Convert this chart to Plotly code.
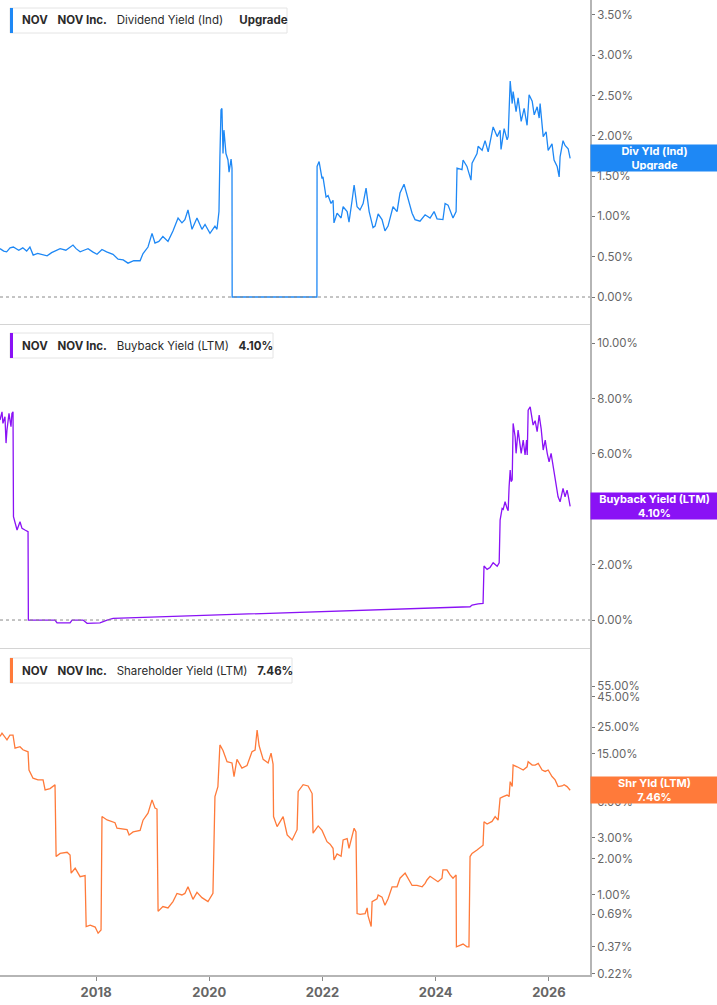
import numpy as np
import plotly.graph_objects as go

# ---- data ----
div_dates = [
    "2016-04-21", "2016-05-15", "2016-06-03", "2016-06-25", "2016-07-16", "2016-08-20",
    "2016-09-15", "2016-10-10", "2016-10-31", "2016-11-21", "2016-12-20", "2017-01-20",
    "2017-02-19", "2017-03-20", "2017-05-14", "2017-06-20", "2017-08-05", "2017-08-25",
    "2017-09-20", "2017-10-15", "2017-11-10", "2017-12-10", "2018-01-07", "2018-02-08",
    "2018-03-10", "2018-04-20", "2018-05-23", "2018-06-25", "2018-07-26", "2018-09-01",
    "2018-10-12", "2018-10-31", "2018-12-02", "2018-12-28", "2019-01-16", "2019-02-10",
    "2019-03-08", "2019-04-10", "2019-05-12", "2019-06-14", "2019-07-09", "2019-07-28",
    "2019-08-17", "2019-09-12", "2019-10-14", "2019-11-15", "2019-12-05", "2020-01-06",
    "2020-02-07", "2020-02-20", "2020-03-04", "2020-03-10", "2020-03-17", "2020-03-23",
    "2020-03-30", "2020-04-05", "2020-04-18", "2020-05-01", "2020-05-08", "2020-05-21",
    "2020-05-27", "2020-05-28", "2021-11-26", "2021-11-27", "2021-12-10", "2021-12-29",
    "2022-01-04", "2022-01-24", "2022-02-06", "2022-02-25", "2022-03-10", "2022-03-16",
    "2022-04-05", "2022-05-01", "2022-05-14", "2022-06-09", "2022-06-21", "2022-07-11",
    "2022-07-24", "2022-08-12", "2022-08-31", "2022-09-20", "2022-10-09", "2022-10-29",
    "2022-11-23", "2022-12-06", "2022-12-26", "2023-01-20", "2023-02-08", "2023-02-28",
    "2023-04-01", "2023-04-27", "2023-05-16", "2023-06-11", "2023-06-30", "2023-08-02",
    "2023-08-21", "2023-09-22", "2023-10-25", "2023-11-26", "2023-12-22", "2024-01-10",
    "2024-02-17", "2024-03-02", "2024-03-21", "2024-04-22", "2024-05-12", "2024-05-18",
    "2024-06-19", "2024-06-26", "2024-07-21", "2024-08-16", "2024-08-23", "2024-09-24",
    "2024-10-01", "2024-10-27", "2024-11-15", "2024-12-05", "2025-01-06", "2025-02-01",
    "2025-02-20", "2025-02-26", "2025-03-18", "2025-04-06", "2025-04-13", "2025-04-26",
    "2025-05-09", "2025-05-15", "2025-06-03", "2025-06-16", "2025-07-06", "2025-07-25",
    "2025-08-13", "2025-08-26", "2025-09-15", "2025-09-28", "2025-10-17", "2025-10-30",
    "2025-11-05", "2025-11-25", "2025-12-14", "2025-12-27", "2026-01-21", "2026-02-03",
    "2026-02-23", "2026-03-08", "2026-03-14", "2026-04-02", "2026-04-15", "2026-04-28",
    "2026-05-05", "2026-05-18",
]
div_yield = [
    0.60, 0.57, 0.56, 0.61, 0.62, 0.58,
    0.61, 0.57, 0.62, 0.52, 0.54, 0.52,
    0.51, 0.55, 0.60, 0.58, 0.645, 0.60,
    0.56, 0.58, 0.60, 0.56, 0.53, 0.59,
    0.56, 0.53, 0.47, 0.46, 0.42, 0.45,
    0.45, 0.54, 0.62, 0.79, 0.67, 0.69,
    0.75, 0.69, 0.82, 0.98, 0.92, 0.96,
    1.08, 0.84, 0.98, 0.84, 0.90, 0.79,
    0.88, 0.84, 1.06, 1.74, 2.32, 2.34,
    1.78, 2.07, 1.78, 1.70, 1.55, 1.71,
    1.60, 0.00, 0.00, 1.62, 1.68, 1.47,
    1.49, 1.24, 1.26, 1.16, 1.20, 0.92,
    1.04, 0.98, 1.12, 1.06, 0.93, 1.20,
    1.39, 1.12, 1.08, 1.16, 1.35, 1.06,
    0.86, 0.88, 1.03, 0.96, 0.82, 0.88,
    1.12, 1.06, 1.29, 1.40, 1.26, 1.04,
    0.96, 0.94, 1.02, 0.98, 1.06, 0.97,
    0.96, 1.16, 1.14, 0.98, 1.06, 1.60,
    1.58, 1.70, 1.62, 1.45, 1.66, 1.78,
    1.87, 1.82, 1.94, 1.80, 2.11, 1.99,
    2.07, 1.83, 2.09, 1.95, 1.99, 2.68,
    2.40, 2.55, 2.30, 2.47, 2.18, 2.34,
    2.13, 2.51, 2.43, 2.26, 2.36, 2.22,
    2.40, 1.99, 2.05, 1.82, 1.90, 1.70,
    1.62, 1.49, 1.74, 1.94, 1.88, 1.86,
    1.84, 1.72,
]

bb_dates = [
    "2016-04-21", "2016-05-04", "2016-05-10", "2016-05-23", "2016-05-30", "2016-06-05",
    "2016-06-18", "2016-07-01", "2016-07-07", "2016-07-14", "2016-07-17", "2016-07-27",
    "2016-08-09", "2016-08-28", "2016-09-10", "2016-09-29", "2016-10-19", "2016-10-21",
    "2017-04-11", "2017-04-24", "2017-07-17", "2017-07-30", "2017-10-09", "2017-11-04",
    "2018-01-26", "2018-03-13", "2018-04-21", "2024-08-10", "2024-08-23", "2024-10-01",
    "2024-11-02", "2024-11-08", "2024-11-28", "2024-12-17", "2025-01-06", "2025-02-01",
    "2025-02-14", "2025-02-20", "2025-03-05", "2025-03-12", "2025-03-24", "2025-04-06",
    "2025-04-13", "2025-04-19", "2025-04-26", "2025-05-02", "2025-05-09", "2025-05-15",
    "2025-05-28", "2025-06-03", "2025-06-16", "2025-07-06", "2025-07-19", "2025-07-31",
    "2025-08-10", "2025-08-14", "2025-08-20", "2025-09-02", "2025-09-21", "2025-10-04",
    "2025-10-17", "2025-10-30", "2025-11-12", "2025-11-25", "2025-12-08", "2025-12-21",
    "2026-01-02", "2026-01-15", "2026-01-28", "2026-02-10", "2026-02-23", "2026-03-01",
    "2026-03-14", "2026-04-02", "2026-04-15", "2026-04-28", "2026-05-05", "2026-05-18",
]
bb_yield = [
    7.22, 7.52, 7.10, 7.34, 6.39, 6.86,
    7.46, 6.98, 7.46, 7.52, 3.73, 3.49,
    3.25, 3.55, 3.31, 3.25, 3.19, 0.00,
    0.00, -0.10, -0.10, 0.00, 0.00, -0.12,
    -0.10, 0.00, 0.06, 0.48, 0.54, 0.58,
    0.60, 1.95, 1.83, 1.90, 2.07, 1.94,
    2.07, 3.61, 4.03, 4.00, 4.27, 4.03,
    3.95, 4.81, 5.42, 5.00, 5.06, 7.10,
    6.62, 6.02, 6.86, 6.02, 6.50, 5.96,
    6.50, 5.96, 7.58, 7.70, 7.04, 7.20,
    6.80, 7.40, 6.90, 6.14, 6.50, 6.02,
    5.71, 6.02, 5.54, 5.06, 4.69, 4.45,
    4.27, 4.75, 4.45, 4.69, 4.50, 4.10,
]

shr_dates = [
    "2016-04-21", "2016-05-04", "2016-06-05", "2016-06-24", "2016-07-14", "2016-07-27",
    "2016-08-28", "2016-09-16", "2016-10-19", "2016-10-25", "2016-11-20", "2016-12-22",
    "2017-01-24", "2017-02-06", "2017-03-10", "2017-04-11", "2017-04-18", "2017-05-14",
    "2017-06-28", "2017-07-17", "2017-07-24", "2017-08-19", "2017-09-20", "2017-10-22",
    "2017-10-29", "2017-11-24", "2017-12-26", "2018-01-14", "2018-02-02", "2018-02-08",
    "2018-03-13", "2018-05-03", "2018-05-16", "2018-07-20", "2018-08-02", "2018-08-28",
    "2018-10-12", "2018-10-31", "2018-12-02", "2018-12-28", "2019-01-16", "2019-01-29",
    "2019-02-05", "2019-03-08", "2019-04-10", "2019-05-12", "2019-06-07", "2019-07-09",
    "2019-07-28", "2019-08-17", "2019-09-18", "2019-10-14", "2019-11-15", "2019-12-24",
    "2020-01-25", "2020-02-07", "2020-02-26", "2020-03-10", "2020-03-30", "2020-04-25",
    "2020-05-27", "2020-06-09", "2020-06-28", "2020-07-30", "2020-09-01", "2020-10-03",
    "2020-10-23", "2020-11-05", "2020-11-18", "2020-12-14", "2021-01-15", "2021-02-03",
    "2021-02-16", "2021-02-19", "2021-03-14", "2021-04-22", "2021-05-18", "2021-06-19",
    "2021-07-21", "2021-07-28", "2021-08-29", "2021-09-30", "2021-10-26", "2021-11-01",
    "2021-12-04", "2021-12-29", "2022-01-30", "2022-02-19", "2022-03-10", "2022-03-16",
    "2022-04-05", "2022-05-01", "2022-05-14", "2022-06-09", "2022-06-21", "2022-07-11",
    "2022-07-24", "2022-08-05", "2022-08-12", "2022-08-31", "2022-10-03", "2022-10-16",
    "2022-10-22", "2022-11-11", "2022-11-17", "2022-12-19", "2022-12-26", "2023-01-20",
    "2023-02-08", "2023-02-28", "2023-03-26", "2023-04-27", "2023-05-16", "2023-06-18",
    "2023-07-07", "2023-08-02", "2023-09-03", "2023-10-06", "2023-10-25", "2023-11-07",
    "2023-11-26", "2023-12-28", "2024-01-16", "2024-02-11", "2024-02-17", "2024-03-14",
    "2024-04-03", "2024-04-22", "2024-05-12", "2024-05-14", "2024-06-06", "2024-06-26",
    "2024-07-21", "2024-08-03", "2024-08-10", "2024-08-23", "2024-09-24", "2024-10-13",
    "2024-11-02", "2024-11-08", "2024-11-28", "2024-12-30", "2025-01-19", "2025-02-07",
    "2025-02-20", "2025-03-12", "2025-04-06", "2025-04-19", "2025-04-26", "2025-05-09",
    "2025-05-15", "2025-06-10", "2025-06-29", "2025-07-19", "2025-08-13", "2025-08-20",
    "2025-09-15", "2025-10-04", "2025-10-24", "2025-11-18", "2025-12-08", "2025-12-27",
    "2026-01-21", "2026-02-10", "2026-03-01", "2026-03-27", "2026-04-09", "2026-04-28",
    "2026-05-18",
]
shr_yield = [
    20.9, 22.3, 19.6, 21.5, 21.5, 16.7,
    17.2, 16.2, 15.6, 11.0, 9.4, 9.1,
    9.1, 7.5, 7.7, 8.3, 2.09, 2.22,
    2.27, 2.15, 1.52, 1.67, 1.42, 1.45,
    0.545, 0.56, 0.54, 0.48, 0.51, 4.5,
    4.22, 4.0, 3.6, 3.5, 3.16, 3.35,
    3.45, 4.2, 4.8, 6.2, 5.3, 5.2,
    0.73, 0.80, 0.78, 0.88, 1.03, 1.00,
    1.03, 1.17, 0.92, 1.05, 0.95, 0.88,
    1.03, 6.6, 8.0, 17.8, 16.0, 12.9,
    12.6, 9.7, 13.5, 11.4, 12.0, 15.6,
    16.1, 23.7, 17.5, 13.5, 12.6, 15.2,
    12.3, 4.5, 3.71, 4.5, 3.16, 2.87,
    3.5, 7.3, 8.3, 8.1, 7.0, 3.27,
    3.76, 3.45, 2.78, 2.65, 2.45, 1.96,
    2.2, 2.1, 2.87, 2.95, 2.45, 3.1,
    3.6, 3.35, 0.70, 0.69, 0.70, 0.78,
    0.67, 0.545, 0.88, 0.93, 1.0, 0.96,
    0.82, 0.93, 1.17, 1.17, 1.38, 1.52,
    1.38, 1.20, 1.20, 1.17, 1.25, 1.34,
    1.43, 1.34, 1.29, 1.38, 1.62, 1.62,
    1.47, 1.38, 1.47, 0.37, 0.38, 0.39,
    0.37, 0.37, 2.09, 2.22, 2.37, 2.50,
    2.60, 4.08, 3.9, 4.1, 4.5, 4.2,
    6.4, 6.6, 6.8, 6.6, 8.8, 8.0,
    12.1, 11.7, 11.4, 11.0, 11.7, 12.9,
    12.1, 12.1, 12.5, 11.0, 10.7, 11.0,
    9.7, 9.1, 8.0, 8.1, 8.3, 8.0,
    7.46,
]

div_ticks = [0, 0.5, 1.0, 1.5, 2.0, 2.5, 3.0, 3.5]
bb_ticks = [0, 2, 4, 6, 8, 10]
shr_ticks = [0.22, 0.37, 0.69, 1, 2, 3, 6, 8, 15, 25, 45, 55]

BLUE = "#1e88f5"
PURPLE = "#8a12f5"
ORANGE = "#ff7a3a"

# figure geometry (pixels)
W, H = 717, 1005
PW, PH = 590, 975  # plot area


def px_x(x):
    return x / PW


def px_y(y):
    return 1 - y / PH


fig = go.Figure()

fig.add_trace(go.Scatter(x=div_dates, y=div_yield, mode="lines",
                         line=dict(color=BLUE, width=1.3), xaxis="x", yaxis="y"))
fig.add_trace(go.Scatter(x=bb_dates, y=bb_yield, mode="lines",
                         line=dict(color=PURPLE, width=1.3), xaxis="x2", yaxis="y2"))
fig.add_trace(go.Scatter(x=shr_dates, y=shr_yield, mode="lines",
                         line=dict(color=ORANGE, width=1.3), xaxis="x3", yaxis="y3"))

x_range = ["2016-04-21", "2026-09-23"]
x_common = dict(range=x_range, showgrid=False, zeroline=False, type="date")
y_common = dict(side="right", showgrid=False, zeroline=False, showline=True,
                linecolor="#b5b5b5", linewidth=2, ticks="outside", ticklen=3,
                tickcolor="#777", tickfont=dict(size=11.5, color="#666"))

fig.update_layout(
    width=W, height=H,
    margin=dict(l=0, r=W - PW, t=0, b=H - PH),
    plot_bgcolor="white", paper_bgcolor="white",
    showlegend=False,
    font=dict(family="Inter, Roboto, sans-serif"),
    xaxis=dict(anchor="y", showticklabels=False, showline=True,
               linecolor="#d4d4d4", linewidth=1, ticks="", **x_common),
    xaxis2=dict(anchor="y2", matches="x", showticklabels=False, showline=True,
                linecolor="#d4d4d4", linewidth=1, ticks="", **x_common),
    xaxis3=dict(anchor="y3", matches="x", showline=True, linecolor="#b5b5b5",
                linewidth=2, ticks="outside", ticklen=4, tickcolor="#888",
                dtick="M24", tick0="2016-01-01", tickformat="%Y",
                tickfont=dict(size=13, color="#666", weight="bold"), **x_common),
    yaxis=dict(domain=[px_y(324), 1], anchor="x", range=[-0.335, 3.685],
               tickvals=div_ticks, ticktext=[f"{v:.2f}%" for v in div_ticks], **y_common),
    yaxis2=dict(domain=[px_y(648), px_y(324)], anchor="x2", range=[-1.01, 10.69],
                tickvals=bb_ticks, ticktext=[f"{v:.2f}%" for v in bb_ticks], **y_common),
    yaxis3=dict(domain=[0, px_y(648)], anchor="x3", type="log", range=[-0.667, 2.058],
                tickvals=shr_ticks, ticktext=[f"{v:.2f}%" for v in shr_ticks], **y_common),
)

# dotted zero lines
for yref in ["y", "y2"]:
    fig.add_shape(type="line", xref="paper", yref=yref, x0=0, x1=1, y0=0, y1=0,
                  line=dict(color="#8a8a8a", width=1, dash="dot"))

# legend boxes in the top-left of each panel
SP = "&nbsp;&nbsp;&nbsp;"
legends = [
    (8, 33, 287, BLUE,
     f"<b>NOV</b>{SP}<b>NOV Inc.</b>{SP}Dividend Yield (Ind){SP}&nbsp;&nbsp;<b>Upgrade</b>"),
    (333, 358, 273, PURPLE,
     f"<b>NOV</b>{SP}<b>NOV Inc.</b>{SP}Buyback Yield (LTM){SP}<b>4.10%</b>"),
    (658, 683, 292, ORANGE,
     f"<b>NOV</b>{SP}<b>NOV Inc.</b>{SP}Shareholder Yield (LTM){SP}<b>7.46%</b>"),
]
for top, bot, right, col, txt in legends:
    fig.add_shape(type="rect", xref="paper", yref="paper",
                  x0=px_x(10), x1=px_x(right), y0=px_y(bot), y1=px_y(top),
                  line=dict(color="#e4e4e4", width=1), fillcolor="white")
    fig.add_shape(type="rect", xref="paper", yref="paper",
                  x0=px_x(10), x1=px_x(13), y0=px_y(bot), y1=px_y(top),
                  line=dict(width=0), fillcolor=col)
    fig.add_annotation(xref="paper", yref="paper", x=px_x(20), y=px_y((top + bot) / 2),
                       xanchor="left", yanchor="middle", showarrow=False, text=txt,
                       font=dict(size=11.5, color="#2b2b2b"))

# value tags on the right axis
tags = [
    ("y", div_yield[-1], BLUE, "Div Yld (Ind)<br>Upgrade"),
    ("y2", bb_yield[-1], PURPLE, "Buyback Yield (LTM)<br>4.10%"),
    ("y3", np.log10(shr_yield[-1]), ORANGE, "Shr Yld (LTM)<br>7.46%"),
]
for yref, yv, col, txt in tags:
    fig.add_annotation(xref="paper", yref=yref, x=1, y=yv, xanchor="left",
                       yanchor="middle", showarrow=False, text=txt, bgcolor=col,
                       width=W - PW - 2, height=24, borderpad=1, align="center",
                       font=dict(size=11, color="white", weight="bold"))

# page has a default body margin; remove it so the chart sits at the corner
fig.write_html("out.html", config={"displayModeBar": False},
               post_script="document.body.style.margin='0';document.body.style.overflow='hidden';")
